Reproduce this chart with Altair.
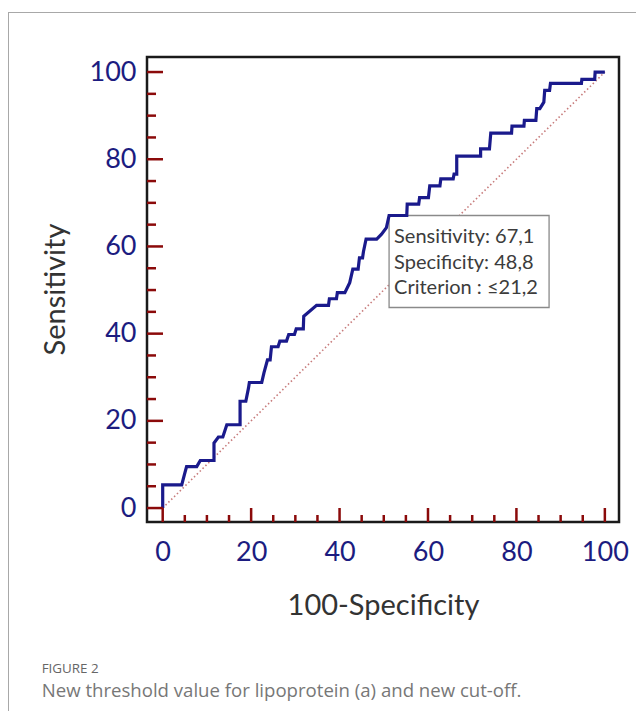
import altair as alt
import pandas as pd

# ROC curve vertices (100-Specificity, Sensitivity)
roc_x = [0, 0, 4.3, 5.0, 5.4, 7.7, 8.5, 11.6, 11.6, 12.6, 13.6, 14.5, 17.5, 17.5, 18.8, 19.4, 19.6,
         22.4, 22.9, 23.7, 24.3, 24.6, 26.1, 26.5, 28.0, 28.5, 29.8, 30.2, 31.8, 31.9, 34.8, 37.5,
         37.7, 39.3, 39.5, 41.2, 42.3, 43.0, 44.2, 44.5, 45.2, 45.4, 46.0, 48.4, 49.5, 50.6, 51.2,
         55.2, 55.3, 57.9, 58.1, 60.1, 60.4, 62.7, 62.9, 65.7, 65.9, 66.5, 66.5, 71.9, 71.9, 73.9,
         74.2, 78.9, 79.0, 81.7, 81.8, 84.4, 84.6, 85.3, 86.2, 86.4, 87.5, 87.7, 94.7, 94.8, 97.7,
         97.8, 100]
roc_y = [0, 5.3, 5.3, 8.0, 9.5, 9.5, 10.9, 10.9, 14.9, 16.3, 16.3, 19.1, 19.1, 24.5, 24.5, 27.5, 28.8,
         28.8, 31.0, 34.0, 34.0, 37.0, 37.0, 38.3, 38.3, 39.8, 39.8, 41.1, 41.1, 44.0, 46.5, 46.5,
         48.0, 48.0, 49.4, 49.4, 51.7, 54.8, 54.8, 57.4, 57.4, 58.8, 61.7, 61.7, 62.8, 64.3, 67.1,
         67.1, 69.7, 69.7, 71.2, 71.2, 73.9, 73.9, 75.5, 75.5, 76.6, 76.6, 80.7, 80.7, 82.4, 82.4,
         86.0, 86.0, 87.6, 87.6, 88.9, 88.9, 91.6, 91.6, 93.1, 95.8, 95.8, 97.4, 97.4, 98.3, 98.3,
         100, 100]

diag_x = [0, 100]
diag_y = [0, 100]

crit_x = [51.2]          # 100 - specificity 48.8
crit_y = [67.1]          # sensitivity
crit_lines = [["Sensitivity: 67,1", "Specificity: 48,8", "Criterion : \u226421,2"]]

tick_values = list(range(0, 101, 5))
tick_major = [v % 20 == 0 for v in tick_values]
axis_values = [0, 20, 40, 60, 80, 100]

W, H = 472, 465
XDOM = [-3.55, 103.2]
YDOM = [-3.2, 103.45]

roc_df = pd.DataFrame({"x": roc_x, "y": roc_y, "order": range(len(roc_x))})
diag_df = pd.DataFrame({"x": diag_x, "y": diag_y})
crit_df = pd.DataFrame({"x": crit_x, "y": crit_y, "label": crit_lines})
ticks_df = pd.DataFrame({"v": tick_values, "major": tick_major})
one = pd.DataFrame({"k": [0]})

xscale = alt.Scale(domain=XDOM, nice=False, zero=False)
yscale = alt.Scale(domain=YDOM, nice=False, zero=False)

LABEL_COLOR = "#1c1c80"
TICK_COLOR = "#8b0a0a"
FONT = "Lato"

xaxis = alt.Axis(values=axis_values, ticks=False, tickSize=0, domain=False, grid=False,
                 labelFont=FONT, labelFontSize=27, labelColor=LABEL_COLOR, labelPadding=17,
                 title="100-Specificity", titleFont=FONT, titleFontSize=29, titleFontWeight="normal",
                 titleColor="#333333", titleX=236, titleY=83, titleBaseline="middle", titleAlign="center")
yaxis = alt.Axis(values=axis_values, ticks=False, tickSize=0, domain=False, grid=False,
                 labelFont=FONT, labelFontSize=27, labelColor=LABEL_COLOR, labelPadding=11,
                 title="Sensitivity", titleFont=FONT, titleFontSize=29, titleFontWeight="normal",
                 titleColor="#333333", titleX=-92, titleY=232, titleAngle=270,
                 titleBaseline="middle", titleAlign="center")

diag = alt.Chart(diag_df).mark_line(color="#c77b7b", strokeWidth=1.6, strokeDash=[1.5, 2.5]).encode(
    x=alt.X("x:Q", scale=xscale, axis=xaxis),
    y=alt.Y("y:Q", scale=yscale, axis=yaxis),
)

box = alt.Chart(crit_df).mark_rect(fill="white", stroke="#8a8a8a", strokeWidth=1.3,
                                   x2Offset=160, y2Offset=92).encode(
    x=alt.X("x:Q", scale=xscale), x2="x:Q",
    y=alt.Y("y:Q", scale=yscale), y2="y:Q",
)

curve = alt.Chart(roc_df).mark_line(color="#1a1a8c", strokeWidth=3.2, strokeJoin="miter").encode(
    x=alt.X("x:Q", scale=xscale),
    y=alt.Y("y:Q", scale=yscale),
    order="order:Q",
)

box_text = alt.Chart(crit_df).mark_text(align="left", baseline="alphabetic", dx=5, dy=28,
                                        lineHeight=25.5, font=FONT, fontSize=20,
                                        color="#3c3c3c").encode(
    x=alt.X("x:Q", scale=xscale),
    y=alt.Y("y:Q", scale=yscale),
    text="label",
)

left_major = alt.Chart(ticks_df).transform_filter("datum.major").mark_rule(
    color=TICK_COLOR, strokeWidth=2.5).encode(
    y=alt.Y("v:Q", scale=yscale), x=alt.value(0), x2=alt.value(16))
left_minor = alt.Chart(ticks_df).transform_filter("!datum.major").mark_rule(
    color=TICK_COLOR, strokeWidth=2.5).encode(
    y=alt.Y("v:Q", scale=yscale), x=alt.value(0), x2=alt.value(9))
bottom_major = alt.Chart(ticks_df).transform_filter("datum.major").mark_rule(
    color=TICK_COLOR, strokeWidth=2.5).encode(
    x=alt.X("v:Q", scale=xscale), y=alt.value(H), y2=alt.value(H - 14))
bottom_minor = alt.Chart(ticks_df).transform_filter("!datum.major").mark_rule(
    color=TICK_COLOR, strokeWidth=2.5).encode(
    x=alt.X("v:Q", scale=xscale), y=alt.value(H), y2=alt.value(H - 7))

border_top = alt.Chart(one).mark_rule(color="#a8a8a8", strokeWidth=1).encode(
    x=alt.value(-139), x2=alt.value(489), y=alt.value(-44.5))
border_left = alt.Chart(one).mark_rule(color="#a8a8a8", strokeWidth=1).encode(
    x=alt.value(-138.5), y=alt.value(-44.5), y2=alt.value(654))

fig_label = alt.Chart(one).mark_text(align="left", baseline="alphabetic", font="Open Sans",
                                     fontSize=13.4, color="#666666").encode(
    x=alt.value(-105.3), y=alt.value(616), text=alt.value("FIGURE 2"))
caption = alt.Chart(one).mark_text(align="left", baseline="alphabetic", font="Open Sans",
                                   fontSize=18.6, color="#777777").encode(
    x=alt.value(-105.3), y=alt.value(640),
    text=alt.value("New threshold value for lipoprotein (a) and new cut-off."))

chart = alt.layer(
    diag, box, curve, box_text, left_major, left_minor, bottom_major, bottom_minor,
    border_top, border_left, fig_label, caption
).properties(
    width=W, height=H,
    padding={"left": 139, "top": 49, "right": 17, "bottom": 197},
    autosize=alt.AutoSizeParams(type="none"),
).configure_view(stroke="#1a1a1a", strokeWidth=2.5)

chart.save("out.html", embed_options={"renderer": "svg", "actions": False})
